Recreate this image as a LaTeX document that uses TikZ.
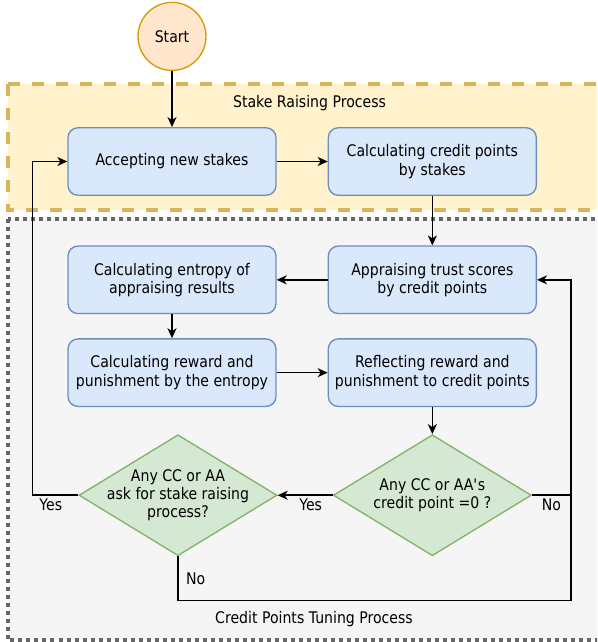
\documentclass[tikz,border=0pt]{standalone}
\usepackage{fontspec}
\setmainfont{DejaVu Sans}[FakeStretch=0.88]
\usetikzlibrary{shapes.geometric,arrows.meta,positioning}
\definecolor{blockfill}{HTML}{DAE8FC}
\definecolor{blockline}{HTML}{6C8EBF}
\definecolor{decfill}{HTML}{D5E8D4}
\definecolor{decline}{HTML}{82B366}
\definecolor{startfill}{HTML}{FFE6CC}
\definecolor{startline}{HTML}{D79B00}
\definecolor{stakefill}{HTML}{FFF2CC}
\definecolor{stakeline}{HTML}{D6B656}
\definecolor{tunefill}{HTML}{F5F5F5}
\definecolor{tuneline}{HTML}{666666}
\tikzstyle{block} = [rectangle, draw=blockline, fill=blockfill, line width=1.33pt, align=center, rounded corners=10pt, minimum width=208pt, minimum height=67.5pt]
\tikzstyle{decision} = [diamond, draw=decline, fill=decfill, line width=1.33pt, align=center, inner sep=-20pt, minimum width=198pt, minimum height=121pt]
\tikzstyle{terminal} = [circle, draw=startline, fill=startfill, line width=1.33pt, minimum size=68pt]
\tikzstyle{stakezone} = [draw=stakeline, fill=stakefill, line width=4pt, dash pattern=on 12pt off 12pt]
\tikzstyle{tunezone} = [draw=tuneline, fill=tunefill, line width=4pt, dash pattern=on 4pt off 4pt]
\tikzstyle{flowline} = [draw, line width=1.5pt]
\tikzstyle{flow} = [flowline, ->]

\begin{document}
\begin{tikzpicture}[x=1pt, y=-1pt, >={Stealth[length=10pt,width=9pt,inset=3pt]}, font=\fontsize{16pt}{18.3pt}\selectfont]
    \useasboundingbox (0,0) rectangle (597,642);
    % process zones
    \begin{scope}
        \clip (0,0) rectangle (597,642);
        \draw[tunezone] (8,218.5) rectangle (620,640);
        \draw[stakezone] (8,84.3) rectangle (620,210.3);
    \end{scope}
    \node (stakelabel) at (309.5,103) {Stake Raising Process};
    \node (tunelabel) at (314,619) {Credit Points Tuning Process};

    \node[block] (accept) at (172,161.5) {Accepting new stakes};
    \node[terminal, above=56pt of accept] (start) {Start};
    \node[block, right=51pt of accept] (stakes) {Calculating credit points\\by stakes};
    \node[block, below=49.5pt of stakes] (appraise) {Appraising trust scores\\by credit points};
    \node[block, left=51pt of appraise] (entropy) {Calculating entropy of\\appraising results};
    \node[block, below=24pt of entropy] (reward) {Calculating reward and\\punishment by the entropy};
    \node[block, right=51pt of reward] (reflect) {Reflecting reward and\\punishment to credit points};
    \node[decision, below=27pt of reflect] (zerocheck) {Any CC or AA\textquotesingle s\\credit point =0 ?};
    \node[decision, left=55pt of zerocheck] (askraise) {Any CC or AA\\ask for stake raising\\process?};

    \coordinate[left=46pt of askraise.west] (yesleft);
    \coordinate[right=39pt of zerocheck.east] (noright);
    \coordinate[below=44pt of askraise.south] (nobottom);

    \draw[flow] (start) -- (accept);
    \draw[flow] (accept) -- (stakes);
    \draw[flow] (stakes) -- (appraise);
    \draw[flow] (appraise) -- (entropy);
    \draw[flow] (entropy) -- (reward);
    \draw[flow] (reward) -- (reflect);
    \draw[flow] (reflect) -- (zerocheck);
    \draw[flow] (zerocheck) -- node[below, pos=0.4] {Yes} (askraise);
    \draw[flow] (askraise.west) -- node[below, pos=0.6] {Yes} (yesleft) |- (accept.west);
    \draw[flow] (zerocheck.east) -- node[below] {No} (noright) |- (appraise.east);
    \draw[flowline] (askraise.south) -- node[right=4pt] {No} (nobottom) -| (noright);
\end{tikzpicture}
\end{document}
